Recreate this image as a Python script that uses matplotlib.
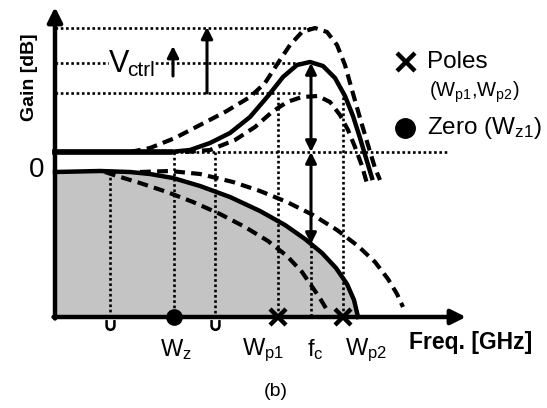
import numpy as np
import matplotlib
matplotlib.use('Agg')
import matplotlib.pyplot as plt

# schematic, in picture pixels (y grows downward)
x_axis_y = 317
y_axis_x = 55

# equalizer (CTLE) responses: mid = solid, hi / lo = dashed
ctle_mid_x = [55, 170, 190, 210, 230, 250, 268, 283, 297, 310, 323, 335, 345, 353, 360, 366, 372]
ctle_mid_y = [152, 152, 150, 143, 133, 117, 96, 77, 65, 62, 66, 78, 96, 116, 138, 158, 178]
ctle_hi_x = [130, 150, 175, 200, 225, 250, 265, 278, 290, 302, 315, 327, 337, 345, 352, 360, 368, 375, 380]
ctle_hi_y = [152, 148, 138, 125, 112, 97, 83, 63, 45, 32, 28, 32, 45, 65, 90, 118, 145, 168, 180]
ctle_lo_x = [185, 210, 235, 255, 272, 287, 302, 318, 330, 340, 348, 355, 362, 368]
ctle_lo_y = [152, 150, 140, 127, 112, 102, 97, 96, 102, 115, 130, 147, 166, 187]

# channel losses: mid = solid (shaded below), hi / lo = dashed
ch_mid_x = [55, 100, 130, 150, 173, 200, 230, 260, 285, 305, 322, 336, 347, 354, 358]
ch_mid_y = [172, 171, 172, 174, 178, 186, 197, 211, 225, 239, 253, 268, 284, 300, 317]
ch_hi_x = [140, 170, 200, 233, 260, 287, 313, 337, 358, 375, 388, 397, 403]
ch_hi_y = [172, 171, 174, 182, 191, 202, 215, 230, 246, 262, 279, 294, 307]
ch_lo_x = [105, 117, 140, 167, 193, 220, 245, 268, 287, 302, 313, 321, 327]
ch_lo_y = [172, 176, 183, 192, 202, 214, 227, 241, 256, 272, 288, 300, 310]

# guide lines
h_levels = [28, 63, 93]
h_ends = [315, 305, 300]
v_guides_x = [110, 174, 215, 278, 343, 311]
v_guides_top = [172, 152, 152, 97, 97, 245]

zero_x = [174]
pole_x = [278, 343]
tick_labels = [r'W$_\mathregular{z}$', r'W$_\mathregular{p1}$', r'f$_\mathregular{c}$', r'W$_\mathregular{p2}$']
tick_label_x = [176, 263, 315, 366]

plt.rcParams['font.family'] = ['Liberation Sans', 'DejaVu Sans']
plt.rcParams['mathtext.default'] = 'regular'

fig = plt.figure(figsize=(5.47, 4.08), dpi=100)
ax = fig.add_axes([0, 0, 1, 1])
ax.set_xlim(0, 547)
ax.set_ylim(408, 0)
ax.axis('off')

dotted = dict(color='k', lw=1.9, linestyle=(0, (1, 1)))
dashed = dict(color='k', lw=3.0, linestyle=(0, (2.6, 1.5)))

# shaded area under the channel response
ax.fill_between(ch_mid_x, ch_mid_y, x_axis_y, color='#c4c4c4', lw=0, zorder=1)

# horizontal guides
for lev, xe in zip(h_levels, h_ends):
    ax.plot([y_axis_x, xe], [lev, lev], **dotted, zorder=2)
ax.plot([175, 447], [152, 152], **dotted, zorder=2)

# vertical guides
for gx, gt in zip(v_guides_x, v_guides_top):
    ax.plot([gx, gx], [gt, x_axis_y], **dotted, zorder=2)
for gx in [110, 215]:
    ax.plot([gx], [325], marker=r'$\cup$', ms=7, color='k', zorder=3)

# curves
ax.plot(ctle_mid_x, ctle_mid_y, color='k', lw=3.2, zorder=4)
ax.plot(ctle_mid_x[:2], ctle_mid_y[:2], color='k', lw=4, zorder=4)
ax.plot(ctle_hi_x, ctle_hi_y, **dashed, zorder=4)
ax.plot(ctle_lo_x, ctle_lo_y, **dashed, zorder=4)
ax.plot(ch_mid_x, ch_mid_y, color='k', lw=3.2, zorder=4)
ax.plot(ch_hi_x, ch_hi_y, **dashed, zorder=4)
ax.plot(ch_lo_x, ch_lo_y, **dashed, zorder=4)

# axes with arrows
ap = dict(arrowstyle='-|>', color='k', lw=3.2, mutation_scale=22, shrinkA=0, shrinkB=0)
ax.annotate('', xy=(466, x_axis_y), xytext=(y_axis_x - 1.5, x_axis_y), arrowprops=ap, zorder=5)
ax.annotate('', xy=(y_axis_x, 7), xytext=(y_axis_x, x_axis_y + 1.5), arrowprops=ap, zorder=5)

# fc double arrows
ap2 = dict(arrowstyle='<|-|>', color='k', lw=2.2, mutation_scale=16, shrinkA=0, shrinkB=0)
ax.annotate('', xy=(311, 63), xytext=(311, 152), arrowprops=ap2, zorder=5)
ax.annotate('', xy=(311, 152), xytext=(311, 244), arrowprops=ap2, zorder=5)

# Vctrl arrows
ap3 = dict(arrowstyle='-|>', color='k', lw=2.2, mutation_scale=17, shrinkA=0, shrinkB=0)
ax.annotate('', xy=(173, 46), xytext=(173, 76), arrowprops=ap3, zorder=5)
ax.annotate('', xy=(207, 27), xytext=(207, 93), arrowprops=ap3, zorder=5)
ax.text(109, 64, 'V', fontsize=22, ha='left', va='center', zorder=6,
        bbox=dict(fc='white', ec='none', pad=0))
ax.text(127, 70, 'ctrl', fontsize=15, ha='left', va='center', zorder=6,
        bbox=dict(fc='white', ec='none', pad=0))

# markers on the frequency axis
ax.plot(zero_x, [x_axis_y] * len(zero_x), 'o', color='k', ms=11, zorder=7)
ax.plot(pole_x, [x_axis_y] * len(pole_x), 'x', color='k', ms=12, mew=3.2, zorder=7)

for lab, lx in zip(tick_labels, tick_label_x):
    ax.text(lx, 350, lab, fontsize=17, ha='center', va='center')

ax.text(471, 343, 'Freq. [GHz]', fontsize=16.5, fontweight='bold', ha='center', va='center')
ax.text(29, 77, 'Gain [dB]', fontsize=14, fontweight='bold', rotation=90, ha='center', va='center')
ax.text(37, 170, '0', fontsize=20, ha='center', va='center')
ax.text(276, 392, '(b)', fontsize=14, ha='center', va='center')

# legend
ax.plot([406], [62], 'x', color='k', ms=13, mew=3.2)
ax.text(427, 62, 'Poles', fontsize=17.5, ha='left', va='center')
ax.text(429, 92, r'(W$_\mathregular{p1}$,W$_\mathregular{p2}$)', fontsize=14.5, ha='left', va='center')
ax.plot([405], [128], 'o', color='k', ms=14)
ax.text(427, 128, r'Zero (W$_\mathregular{z1}$)', fontsize=17.5, ha='left', va='center')

fig.savefig('out.png', dpi=100)
